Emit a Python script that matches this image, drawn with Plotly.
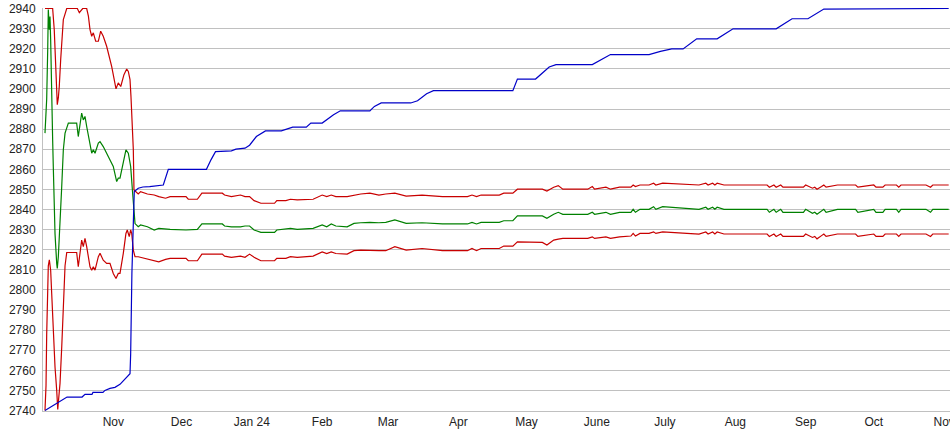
import plotly.graph_objects as go

# ---------------- data ----------------
blue_dates = ["2023-10-01 21:00", "2023-10-07 15:00", "2023-10-11 14:00", "2023-10-18 05:00",
              "2023-10-19 12:00", "2023-10-22 14:00", "2023-10-23 00:00", "2023-10-27 10:00",
              "2023-10-28 07:00", "2023-10-30 12:00", "2023-11-01 17:00", "2023-11-03 22:00",
              "2023-11-08 08:00", "2023-11-08 15:00", "2023-11-08 18:00", "2023-11-09 04:00",
              "2023-11-09 19:00", "2023-11-10 05:00", "2023-11-11 23:00", "2023-11-14",
              "2023-11-17", "2023-11-23", "2023-11-25 05:00", "2023-12-12", "2023-12-14",
              "2023-12-16", "2023-12-23", "2023-12-25", "2023-12-29", "2023-12-31",
              "2024-01-03", "2024-01-07", "2024-01-14", "2024-01-16", "2024-01-19",
              "2024-01-25", "2024-01-27", "2024-02-01", "2024-02-04", "2024-02-06",
              "2024-02-09", "2024-02-22", "2024-02-24", "2024-02-27", "2024-03-11",
              "2024-03-14", "2024-03-18", "2024-03-21", "2024-04-25", "2024-04-27",
              "2024-05-05", "2024-05-11", "2024-05-14", "2024-05-30", "2024-06-07",
              "2024-06-24", "2024-06-29", "2024-07-04", "2024-07-09", "2024-07-15",
              "2024-07-24", "2024-07-31", "2024-08-19", "2024-08-26", "2024-09-02",
              "2024-09-09", "2024-11-03"]
blue_values = [2740, 2744, 2746.7, 2746.7, 2748, 2748, 2749, 2749, 2750, 2751, 2751.5, 2753,
               2758.3, 2768.3, 2785.7, 2808.2, 2833.1, 2848.9, 2850.6, 2851.2, 2851.4, 2852.2,
               2860, 2860, 2864.7, 2868.8, 2869.2, 2870, 2870.5, 2872, 2876.3, 2879.1, 2879.1,
               2880, 2881, 2881, 2883, 2883, 2885.5, 2887.1, 2889.1, 2889.1, 2891.3, 2893, 2893,
               2894.1, 2897.6, 2899.1, 2899.1, 2904.9, 2904.9, 2910.9, 2912.1, 2912.1, 2917.1,
               2917.1, 2918.7, 2919.9, 2919.9, 2924.9, 2924.9, 2929.9, 2929.9, 2934.9, 2934.9,
               2939.7, 2940]

upper_early_dates = ["2023-10-01 21:00", "2023-10-05 06:00", "2023-10-05 23:00", "2023-10-06 17:00",
                     "2023-10-07 07:00", "2023-10-07 18:00", "2023-10-08 04:00", "2023-10-08 19:00",
                     "2023-10-09 09:00", "2023-10-09 23:00", "2023-10-11 11:00", "2023-10-16 03:00",
                     "2023-10-17 00:00", "2023-10-18 12:00", "2023-10-20 06:00", "2023-10-21 00:00",
                     "2023-10-21 17:00", "2023-10-22 11:00", "2023-10-23 04:00", "2023-10-24 05:00",
                     "2023-10-25 09:00", "2023-10-26 10:00", "2023-10-27 13:00", "2023-10-29 01:00",
                     "2023-10-31 06:00", "2023-11-02 04:00", "2023-11-03 04:00", "2023-11-04 06:00",
                     "2023-11-05 16:00", "2023-11-06 21:00", "2023-11-07 14:00", "2023-11-08 08:00",
                     "2023-11-08 18:00", "2023-11-09 08:00", "2023-11-09 19:00", "2023-11-10 02:00",
                     "2023-11-10 23:00", "2023-11-11 23:00"]
upper_early_values = [2940, 2940, 2929.5, 2911.2, 2892.1, 2895.5, 2901.2, 2914.6, 2924.5, 2934.5,
                      2940, 2940, 2937.9, 2940, 2940, 2936.2, 2929.5, 2926.2, 2927.9, 2923.7,
                      2923.7, 2928.7, 2926.2, 2921.2, 2911.2, 2900, 2903, 2901.2, 2907.1, 2909.9,
                      2908.7, 2904.6, 2896.3, 2881.3, 2869.7, 2849.7, 2848.9, 2847.7]

green_early_dates = ["2023-10-01 21:00", "2023-10-02 15:00", "2023-10-03 02:00", "2023-10-03 08:00",
                     "2023-10-03 19:00", "2023-10-04 02:00", "2023-10-04 09:00", "2023-10-04 12:00",
                     "2023-10-04 20:00", "2023-10-05 06:00", "2023-10-05 13:00", "2023-10-06 07:00",
                     "2023-10-07 01:00", "2023-10-07 07:00", "2023-10-07 18:00", "2023-10-08 12:00",
                     "2023-10-09 06:00", "2023-10-09 23:00", "2023-10-10 17:00", "2023-10-12 04:00",
                     "2023-10-15 20:00", "2023-10-16 13:00", "2023-10-17 07:00", "2023-10-18 01:00",
                     "2023-10-18 18:00", "2023-10-19 12:00", "2023-10-20 06:00", "2023-10-21 17:00",
                     "2023-10-22 11:00", "2023-10-23 04:00", "2023-10-23 22:00", "2023-10-25 09:00",
                     "2023-10-26 03:00", "2023-10-27 13:00", "2023-10-29 01:00", "2023-10-30 12:00",
                     "2023-10-31 23:00", "2023-11-02 11:00", "2023-11-03 04:00", "2023-11-03 22:00",
                     "2023-11-05 09:00", "2023-11-06 13:00", "2023-11-07 14:00", "2023-11-08 15:00",
                     "2023-11-09 12:00", "2023-11-10 02:00", "2023-11-10 13:00", "2023-11-11 23:00"]
green_early_values = [2878, 2895, 2920, 2939.5, 2929.5, 2936, 2924.5, 2914.6, 2896, 2874.7, 2861,
                      2828, 2813, 2810.7, 2816.5, 2831.4, 2851.4, 2869.7, 2878, 2883, 2883, 2876.3,
                      2881.3, 2888, 2884.6, 2886.3, 2881.3, 2871.3, 2868, 2869.7, 2868, 2873,
                      2873.8, 2871.3, 2868, 2864.7, 2861.4, 2853.9, 2855.6, 2855.6, 2863, 2869.7,
                      2868, 2861.4, 2848, 2838, 2833, 2831.4]

lower_early_dates = ["2023-10-01 21:00", "2023-10-02 08:00", "2023-10-02 15:00", "2023-10-03 02:00",
                     "2023-10-03 08:00", "2023-10-03 19:00", "2023-10-04 09:00", "2023-10-04 20:00",
                     "2023-10-05 13:00", "2023-10-06 07:00", "2023-10-07 01:00", "2023-10-07 12:00",
                     "2023-10-07 18:00", "2023-10-08 12:00", "2023-10-09 06:00", "2023-10-09 23:00",
                     "2023-10-10 09:00", "2023-10-10 17:00", "2023-10-11 11:00", "2023-10-15 20:00",
                     "2023-10-16 13:00", "2023-10-17 07:00", "2023-10-18 01:00", "2023-10-18 18:00",
                     "2023-10-19 12:00", "2023-10-20 06:00", "2023-10-21 17:00", "2023-10-22 11:00",
                     "2023-10-23 04:00", "2023-10-23 22:00", "2023-10-25 09:00", "2023-10-26 03:00",
                     "2023-10-27 13:00", "2023-10-29 01:00", "2023-10-30 12:00", "2023-10-31 23:00",
                     "2023-11-02 04:00", "2023-11-03 04:00", "2023-11-03 22:00", "2023-11-05 09:00",
                     "2023-11-06 13:00", "2023-11-07 03:00", "2023-11-08 00:00", "2023-11-08 15:00",
                     "2023-11-09 02:00", "2023-11-09 19:00", "2023-11-10 13:00", "2023-11-11 23:00"]
lower_early_values = [2740, 2752.5, 2778, 2804.8, 2812, 2815, 2809.8, 2798.2, 2778.2, 2761.6, 2750,
                      2740.5, 2744, 2753.5, 2771.6, 2795, 2805, 2812, 2818.6, 2818.6, 2811.5,
                      2818.2, 2824.8, 2821.5, 2825.6, 2821.5, 2811.5, 2809.8, 2811.5, 2809.8,
                      2816.5, 2818.2, 2814.8, 2813.2, 2813.2, 2808.2, 2805.7, 2808.2, 2808.2,
                      2818.2, 2828.1, 2829.8, 2826.5, 2829.8, 2828.1, 2819.8, 2816.5, 2816.5]

tail_dates = ["2023-11-13", "2023-11-16", "2023-11-19", "2023-11-21", "2023-11-24", "2023-11-26",
              "2023-12-03", "2023-12-04", "2023-12-08", "2023-12-10", "2023-12-19", "2023-12-20",
              "2023-12-23", "2023-12-27", "2023-12-29", "2023-12-31", "2024-01-02", "2024-01-05",
              "2024-01-11", "2024-01-12", "2024-01-16", "2024-01-18", "2024-01-21", "2024-01-28",
              "2024-02-01", "2024-02-03", "2024-02-05", "2024-02-07", "2024-02-12", "2024-02-15",
              "2024-02-18", "2024-02-22", "2024-02-26", "2024-02-29", "2024-03-04", "2024-03-09",
              "2024-03-16", "2024-03-25", "2024-04-05", "2024-04-07", "2024-04-09", "2024-04-11",
              "2024-04-19", "2024-04-21", "2024-04-25", "2024-04-27", "2024-05-08", "2024-05-10",
              "2024-05-13", "2024-05-15", "2024-05-17", "2024-05-28", "2024-05-30", "2024-05-31",
              "2024-06-05", "2024-06-07", "2024-06-11", "2024-06-16", "2024-06-17", "2024-06-18",
              "2024-06-20", "2024-06-24", "2024-06-26", "2024-06-27", "2024-06-30", "2024-07-16",
              "2024-07-19", "2024-07-20", "2024-07-22", "2024-07-23", "2024-07-24", "2024-07-27",
              "2024-08-15", "2024-08-16", "2024-08-18", "2024-08-19", "2024-08-21", "2024-08-22",
              "2024-08-31", "2024-09-01", "2024-09-04", "2024-09-05", "2024-09-06", "2024-09-08",
              "2024-09-09", "2024-09-10", "2024-09-15", "2024-09-23", "2024-09-24", "2024-10-01",
              "2024-10-02", "2024-10-05", "2024-10-06", "2024-10-11", "2024-10-12", "2024-10-13",
              "2024-10-24", "2024-10-26", "2024-10-27", "2024-11-03"]
upper_tail = [2848.9, 2847.7, 2847.2, 2846.4, 2845.6, 2846.4, 2846.4, 2845.1, 2845.1, 2848.1,
              2848.1, 2847.2, 2846.4, 2847.2, 2846.4, 2846.4, 2844.4, 2843.1, 2843.1, 2844.4,
              2844.4, 2845.1, 2844.8, 2845.1, 2847.2, 2846.4, 2847.2, 2846.4, 2846.4, 2847.2,
              2847.7, 2848.1, 2847.2, 2847.7, 2848.1, 2846.7, 2847.2, 2846.4, 2846.4, 2847.2,
              2846.4, 2847.2, 2847.2, 2848.1, 2848.1, 2850.1, 2850.1, 2849.2, 2851.1, 2851.9,
              2850.1, 2850.1, 2851.4, 2850.1, 2851.1, 2850.1, 2851.1, 2851.1, 2852.2, 2851.4,
              2852.2, 2852.2, 2853.1, 2852.2, 2853.1, 2852.2, 2853.1, 2852.2, 2853.1, 2852.2,
              2853.1, 2852.2, 2852.2, 2851.1, 2852.2, 2851.1, 2852.2, 2851.1, 2851.1, 2852.2,
              2850.6, 2851.1, 2850.1, 2851.4, 2852.2, 2851.1, 2852.2, 2852.2, 2851.1, 2852.2,
              2851.1, 2851.1, 2852.2, 2852.2, 2851.1, 2852.2, 2852.2, 2851.1, 2852.2, 2852.2]
green_tail = [2832.3, 2831.4, 2829.8, 2830.6, 2830.1, 2830.1, 2829.8, 2829.8, 2830.1, 2832.8,
              2832.8, 2831.8, 2831.4, 2831.4, 2831.8, 2831.8, 2829.8, 2828.6, 2828.6, 2829.8,
              2830.1, 2830.6, 2830.1, 2830.6, 2832.3, 2831.4, 2832.8, 2831.8, 2831.4, 2833.1,
              2833.4, 2833.6, 2833.4, 2833.6, 2834.8, 2833.1, 2833.4, 2832.8, 2832.8, 2833.6,
              2832.8, 2833.6, 2833.6, 2834.4, 2834.4, 2836.8, 2836.8, 2835.6, 2837.6, 2838.6,
              2837.6, 2837.6, 2838.6, 2837.6, 2838.6, 2837.6, 2838.6, 2838.6, 2840.1, 2838.6,
              2840.1, 2840.1, 2841.4, 2840.1, 2841.4, 2840.1, 2841.1, 2840.1, 2841.1, 2840.1,
              2841.1, 2840.1, 2840.1, 2838.6, 2840.1, 2838.6, 2840.1, 2838.6, 2838.6, 2840.1,
              2838.1, 2838.6, 2837.6, 2839.0, 2840.1, 2838.6, 2840.1, 2840.1, 2838.6, 2840.1,
              2838.6, 2838.6, 2840.1, 2840.1, 2838.6, 2840.1, 2840.1, 2838.6, 2840.1, 2840.1]
lower_tail = [2816.2, 2815.2, 2814.5, 2814.0, 2815.2, 2815.7, 2815.7, 2814.5, 2814.5, 2817.8,
              2817.8, 2816.8, 2816.2, 2816.8, 2816.2, 2817.8, 2816.2, 2814.5, 2814.5, 2815.7,
              2815.7, 2816.5, 2816.2, 2816.8, 2818.9, 2818.1, 2818.9, 2818.1, 2817.8, 2819.5,
              2819.8, 2819.5, 2819.5, 2819.5, 2821.5, 2819.8, 2820.6, 2819.5, 2819.5, 2820.6,
              2819.5, 2820.6, 2820.6, 2821.8, 2821.8, 2823.9, 2823.6, 2822.3, 2824.8, 2825.3,
              2825.6, 2825.6, 2826.4, 2825.6, 2826.4, 2825.6, 2826.4, 2826.8, 2828.1, 2826.8,
              2828.1, 2828.1, 2828.9, 2828.1, 2828.9, 2827.8, 2828.8, 2827.8, 2828.8, 2827.8,
              2828.8, 2827.8, 2827.8, 2826.6, 2827.8, 2826.6, 2827.8, 2826.6, 2826.6, 2827.8,
              2826.1, 2826.6, 2825.4, 2827.0, 2827.8, 2826.6, 2827.8, 2827.8, 2826.6, 2827.8,
              2826.6, 2826.6, 2827.8, 2827.8, 2826.6, 2827.8, 2827.8, 2826.6, 2827.8, 2827.8]

tick_dates = ["2023-11-01", "2023-12-01", "2024-01-01", "2024-02-01", "2024-03-01", "2024-04-01",
              "2024-05-01", "2024-06-01", "2024-07-01", "2024-08-01", "2024-09-01", "2024-10-01",
              "2024-11-01"]
tick_labels = ["Nov", "Dec", "Jan 24", "Feb", "Mar", "Apr", "May", "June", "July", "Aug", "Sep",
               "Oct", "Nov"]
y_ticks = list(range(2740, 2941, 10))

# ---------------- figure ----------------
fig = go.Figure()
series = [
    (lower_early_dates + tail_dates, lower_early_values + lower_tail, "#c80000"),
    (green_early_dates + tail_dates, green_early_values + green_tail, "#008000"),
    (upper_early_dates + tail_dates, upper_early_values + upper_tail, "#c80000"),
    (blue_dates, blue_values, "#0000c8"),
]
for xs, ys, col in series:
    fig.add_trace(go.Scatter(x=xs, y=ys, mode="lines",
                             line=dict(color=col, width=1.2), hoverinfo="skip",
                             showlegend=False))

fig.update_layout(
    width=950, height=435,
    margin=dict(l=43, r=0, t=8, b=24, autoexpand=False),
    paper_bgcolor="white", plot_bgcolor="white",
    font=dict(family="Liberation Sans, Arial, sans-serif", size=12, color="#222"),
    xaxis=dict(range=["2023-10-01", "2024-11-03 14:00"], tickvals=tick_dates,
               ticktext=tick_labels, showgrid=False, zeroline=False, showline=True,
               linecolor="#c0c0c0", linewidth=1, ticks="", tickangle=0,
               automargin=False, ticklabeloverflow="allow"),
    yaxis=dict(range=[2739.75, 2940.25], tickvals=y_ticks, showgrid=True,
               gridcolor="#c0c0c0", gridwidth=1, zeroline=False, showline=True,
               linecolor="#c0c0c0", linewidth=1, ticks="", ticklabelstandoff=4,
               automargin=False, ticklabeloverflow="allow"),
)

fig.write_html("out.html", config={"displayModeBar": False},
               post_script="document.body.style.margin='0';document.body.style.overflow='hidden';")
